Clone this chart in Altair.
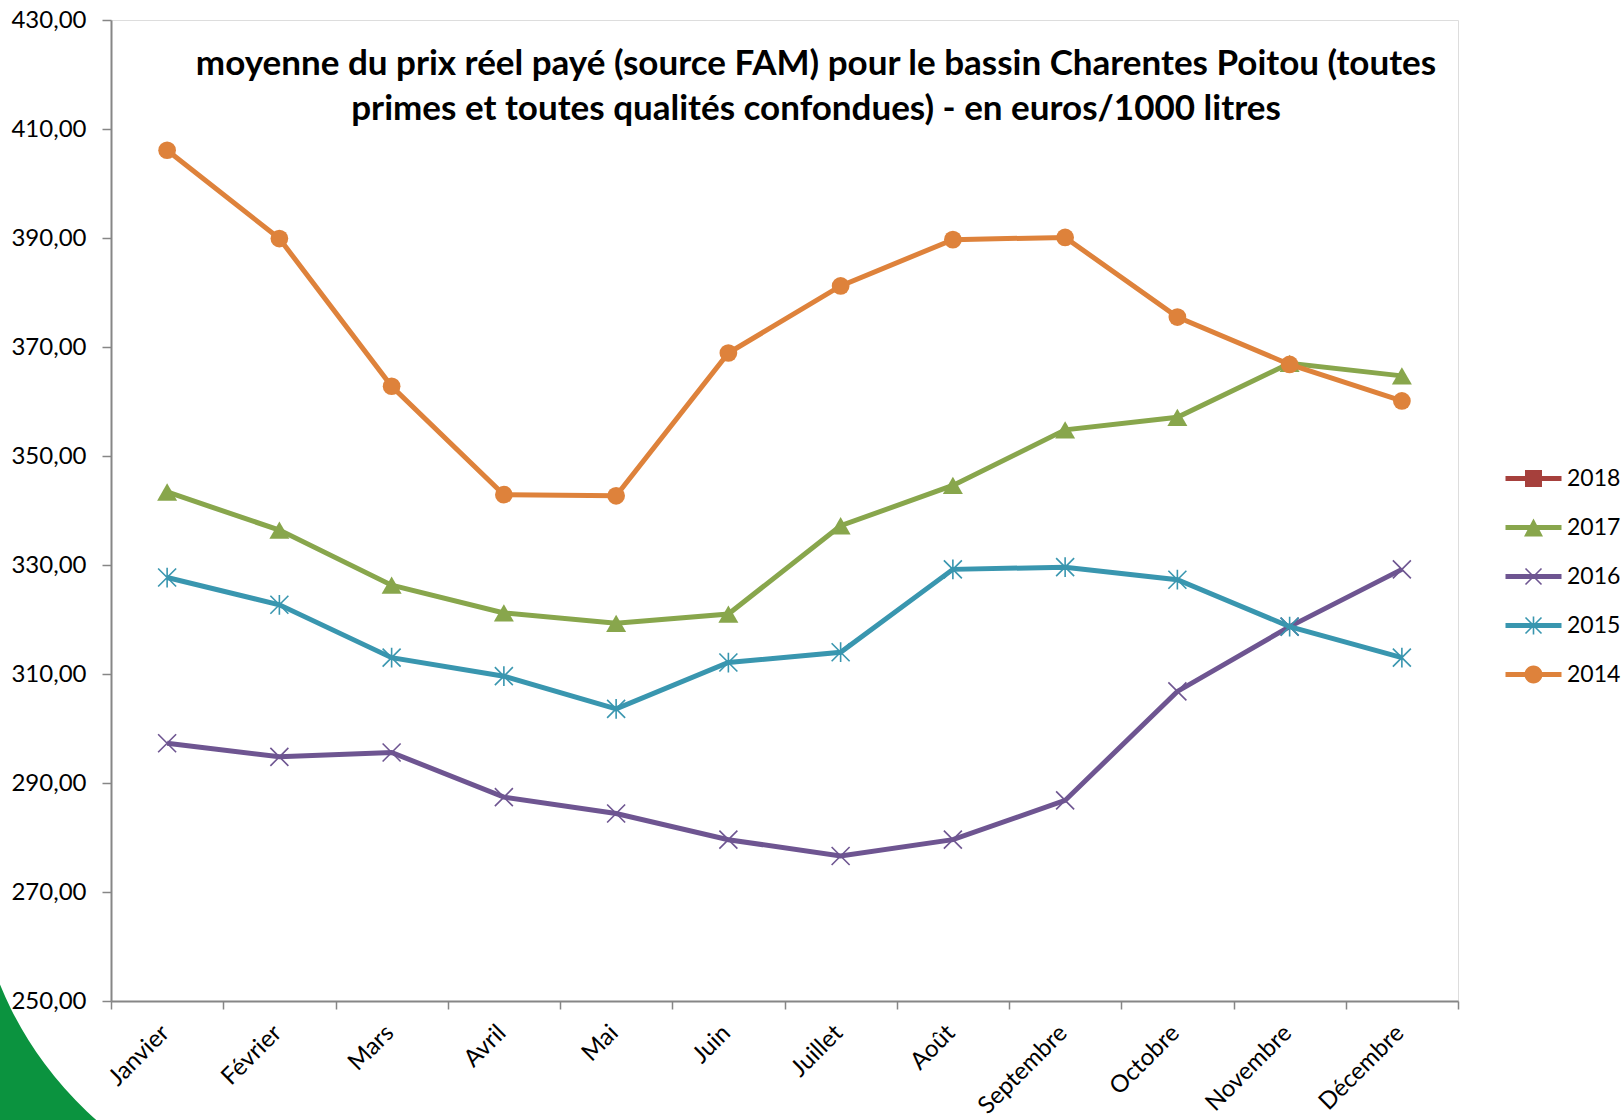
import altair as alt
import pandas as pd

# Monthly average paid milk price, Charentes Poitou basin (euros / 1000 litres)
mois = ["Janvier", "Février", "Mars", "Avril", "Mai", "Juin", "Juillet",
        "Août", "Septembre", "Octobre", "Novembre", "Décembre"]
prix_2017 = [343.4, 336.4, 326.3, 321.2, 319.3, 321.0, 337.2, 344.6, 354.8, 357.1, 367.0, 364.7]
prix_2016 = [297.3, 294.8, 295.6, 287.4, 284.4, 279.6, 276.6, 279.6, 286.8, 306.8, 318.7, 329.2]
prix_2015 = [327.7, 322.7, 313.0, 309.6, 303.6, 312.1, 314.0, 329.2, 329.6, 327.3, 318.7, 313.0]
prix_2014 = [406.1, 389.9, 362.8, 342.9, 342.7, 368.9, 381.2, 389.7, 390.1, 375.5, 366.8, 360.1]

annees = ["2018", "2017", "2016", "2015", "2014"]
couleurs = ["#A6403C", "#88A64C", "#6E5591", "#3996AF", "#DE823B"]
y_ticks = [250, 270, 290, 310, 330, 350, 370, 390, 410, 430]

titre = ["moyenne du prix réel payé (source FAM) pour le bassin Charentes Poitou (toutes",
         "primes et toutes qualités confondues) - en euros/1000 litres"]

series = {"2017": prix_2017, "2016": prix_2016, "2015": prix_2015, "2014": prix_2014}
rows = []
for an, vals in series.items():
    for m, v in zip(mois, vals):
        rows.append({"annee": an, "mois": m, "prix": v})
df = pd.DataFrame(rows)

FONT = "Lato"
W, H = 1347, 981


# --- symbol geometry (unit coordinates, scaled by Vega) ---
def bar(p, q, t):
    """Filled thin quad along segment p->q, clockwise winding."""
    dx, dy = q[0] - p[0], q[1] - p[1]
    ln = (dx * dx + dy * dy) ** 0.5
    nx, ny = -dy / ln * t, dx / ln * t
    pts = [(p[0] - nx, p[1] - ny), (q[0] - nx, q[1] - ny),
           (q[0] + nx, q[1] + ny), (p[0] + nx, p[1] + ny)]
    return "M" + "L".join(f"{x:.3f},{y:.3f}" for x, y in pts) + "Z"


LT = 0.25  # half thickness of the legend line
line_part = bar((-2.8, 0), (2.8, 0), LT)
leg_square = line_part + "M-0.85,-0.85L0.85,-0.85L0.85,0.85L-0.85,0.85Z"
leg_triangle = line_part + "M0,-0.9L0.95,0.9L-0.95,0.9Z"
leg_x = line_part + bar((-0.8, -0.8), (0.8, 0.8), 0.08) + bar((-0.8, 0.8), (0.8, -0.8), 0.08)
leg_star = leg_x + bar((0, -0.9), (0, 0.9), 0.08)
leg_circle = line_part + "M-0.9,0A0.9,0.9 0 1,1 0.9,0A0.9,0.9 0 1,1 -0.9,0Z"
leg_shapes = [leg_square, leg_triangle, leg_x, leg_star, leg_circle]

X_PATH = "M-1,-1L1,1M-1,1L1,-1"
STAR_PATH = "M-1,-1L1,1M-1,1L1,-1M0,-1.1L0,1.1"

x_enc = alt.X("mois:N", sort=mois, bandPosition=0.5,
              scale=alt.Scale(type="band", paddingInner=0, paddingOuter=0),
              axis=alt.Axis(title=None, tickBand="extent", labelAngle=-45,
                            labelAlign="right", labelBaseline="middle",
                            labelFont=FONT, labelFontSize=24, labelColor="#000000",
                            labelPadding=20, labelOffset=-2, tickSize=8, tickColor="#868686",
                            tickWidth=1.5, domainColor="#868686", domainWidth=2, grid=False))
y_enc = alt.Y("prix:Q",
              scale=alt.Scale(domain=[250, 430], zero=False, nice=False),
              axis=alt.Axis(title=None, values=y_ticks,
                            labelExpr="replace(format(datum.value, '.2f'), '.', ',')",
                            labelFont=FONT, labelFontSize=24, labelColor="#000000",
                            labelPadding=16, tickSize=9, tickColor="#868686", tickWidth=1.5,
                            domainColor="#868686", domainWidth=2, grid=False))

base = alt.Chart(df)
layers = []

# decorative green swoosh in the bottom-left corner
deco = alt.Chart(pd.DataFrame({"k": [0]})).mark_arc(
    innerRadius=364, outerRadius=900, theta=3.2, theta2=4.6, color="#0B933F"
).encode(x=alt.value(226), y=alt.value(827))
layers.append(deco)

markers = {
    "2017": dict(shape="triangle-up", filled=True, size=400),
    "2016": dict(shape=X_PATH, filled=False, size=324, strokeWidth=1.6),
    "2015": dict(shape=STAR_PATH, filled=False, size=324, strokeWidth=1.6),
    "2014": dict(shape="circle", filled=True, size=314),
}
for an in ["2017", "2016", "2015", "2014"]:
    col = couleurs[annees.index(an)]
    sub = base.transform_filter(alt.datum.annee == an)
    layers.append(sub.mark_line(color=col, strokeWidth=5).encode(x=x_enc, y=y_enc))
    layers.append(sub.mark_point(color=col, opacity=1, **markers[an]).encode(x=x_enc, y=y_enc))

# legend driven by the year scale
legend_layer = base.transform_filter("false").mark_point(filled=True, opacity=1).encode(
    x=x_enc, y=y_enc,
    color=alt.Color("annee:N", scale=alt.Scale(domain=annees, range=couleurs),
                    legend=alt.Legend(title=None, orient="none", legendX=1411, legendY=447,
                                      padding=0, symbolSize=400, symbolStrokeWidth=0,
                                      labelFont=FONT, labelFontSize=23, labelColor="#000000",
                                      labelOffset=22, rowPadding=25, symbolOffset=0)),
    shape=alt.Shape("annee:N", scale=alt.Scale(domain=annees, range=leg_shapes), legend=None),
)
layers.append(legend_layer)

title_layer = alt.Chart(pd.DataFrame({"k": [0]})).mark_text(
    text=titre, font=FONT, fontSize=35, fontWeight="bold", color="#000000",
    align="center", baseline="alphabetic", lineHeight=45
).encode(x=alt.value(705), y=alt.value(55))
layers.append(title_layer)

chart = alt.layer(*layers).properties(
    width=W, height=H,
    autosize="none",
    padding={"left": 111, "top": 20, "right": 1622 - 111 - W, "bottom": 1120 - 20 - H},
).configure_view(stroke="#4F81BD", strokeWidth=1.5).configure(background="#FFFFFF")

chart.save("out.html", embed_options={"renderer": "svg", "actions": False})
